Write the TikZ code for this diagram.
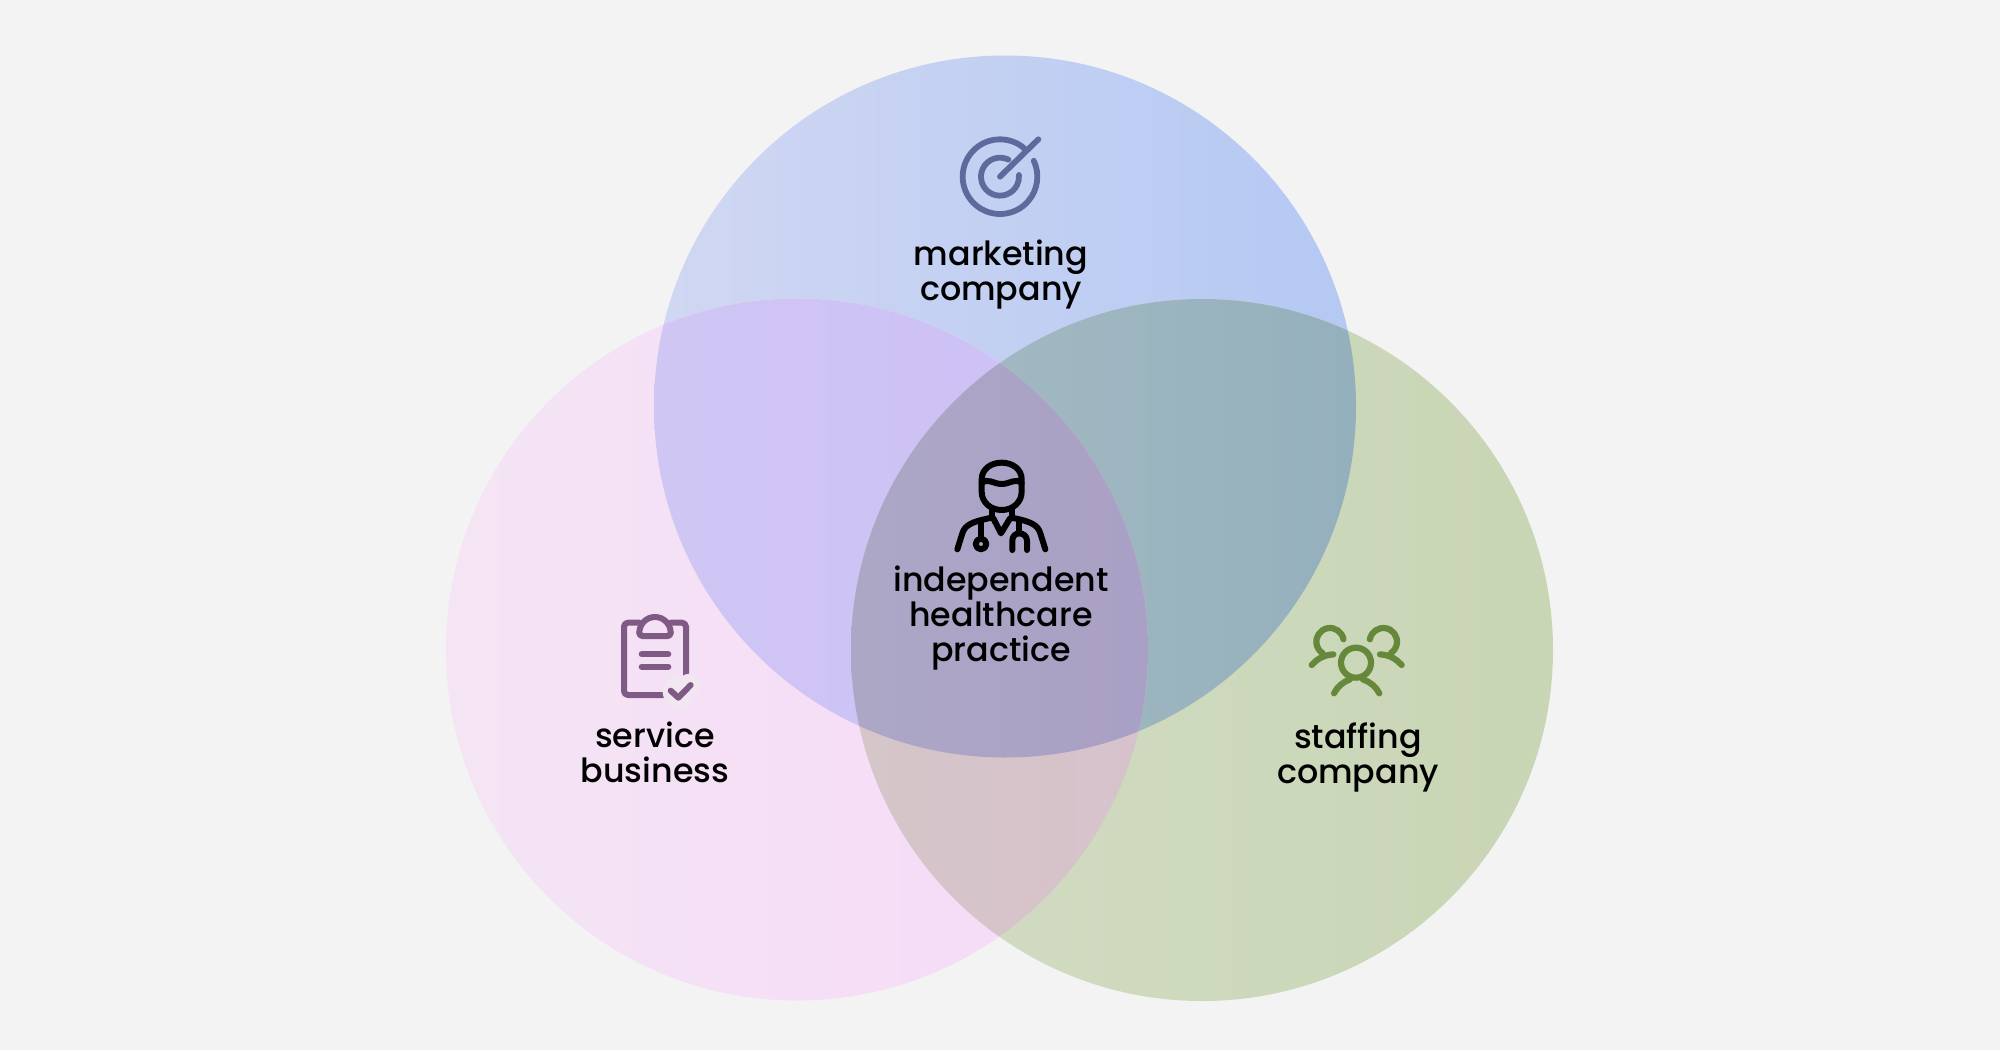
\documentclass[tikz,border=0pt]{standalone}
\usepackage{fontspec}
\setmainfont{Poppins Medium}[Ligatures=TeX]
\definecolor{bgc}{HTML}{F3F3F3}
\definecolor{icoblue}{HTML}{5D6A9B}
\definecolor{icopurple}{HTML}{7E5A84}
\definecolor{icogreen}{HTML}{65883A}
\definecolor{halo}{HTML}{F1E6F2}
\definecolor{Ta}{HTML}{D0D7F2}\definecolor{Tb}{HTML}{B2C7F3}
\definecolor{La}{HTML}{F4E5F4}\definecolor{Lb}{HTML}{F6D9F8}
\definecolor{Ra}{HTML}{D4DDC8}\definecolor{Rb}{HTML}{C6D4B0}
\definecolor{TLa}{HTML}{D1C9F3}\definecolor{TLb}{HTML}{CCBEF6}
\definecolor{TRa}{HTML}{A6BCC3}\definecolor{TRb}{HTML}{8FACBB}
\definecolor{LRa}{HTML}{D3C8C8}\definecolor{LRb}{HTML}{D8C0CC}
\definecolor{Ca}{HTML}{AFABC6}\definecolor{Cb}{HTML}{A79CC5}
\newcommand\CircT{(1005,406.5) circle[radius=351]}
\newcommand\CircL{(797,649.5) circle[radius=351]}
\newcommand\CircR{(1202,650) circle[radius=351]}
% horizontal ramp from x=#1 to x=#2, colours #3 to #4 (the ramp fills the middle half of the box)
\newcommand\ramp[4]{\shade[left color=#3,right color=#4]
  ({#1-(#2-#1)/2},-100) rectangle ({#2+(#2-#1)/2},1150);}
\tikzset{
  ico/.style={line width=#1,line cap=round,line join=round},
  lab/.style={align=center,font=\fontsize{33.3}{35}\selectfont,text=black,inner sep=0pt,anchor=center},
  zoomed/.style={x=1/3*1pt,y=-1/3*1pt},
}
\begin{document}
\begin{tikzpicture}[x=1pt,y=-1pt]
\useasboundingbox (0,0) rectangle (2000,1050);
\fill[bgc] (0,0) rectangle (2000,1050);
\begin{scope}\clip \CircT; \ramp{850}{1230}{Ta}{Tb}\end{scope}
\begin{scope}\clip \CircL; \ramp{600}{1000}{La}{Lb}\end{scope}
\begin{scope}\clip \CircR; \ramp{950}{1480}{Ra}{Rb}\end{scope}
\begin{scope}\clip \CircT; \clip \CircL; \ramp{655}{1000}{TLa}{TLb}\end{scope}
\begin{scope}\clip \CircT; \clip \CircR; \ramp{1000}{1357}{TRa}{TRb}\end{scope}
\begin{scope}\clip \CircL; \clip \CircR; \ramp{850}{1150}{LRa}{LRb}\end{scope}
\begin{scope}\clip \CircT; \clip \CircL; \clip \CircR; \ramp{852}{1148}{Ca}{Cb}\end{scope}
% target icon
\begin{scope}[shift={(920,120)},zoomed,icoblue]
\draw[ico=5.8pt] (240,170) ++(-49:112) arc[start angle=-49,end angle=-385,radius=112];
\draw[ico=5.8pt] (240,170) ++(-64:57) arc[start angle=-64,end angle=-365,radius=57];
\draw[ico=5.8pt] (240,170) -- (355,58);
\end{scope}
% doctor icon
\begin{scope}[shift={(930,450)},zoomed,black]
\draw[ico=6pt] (155,125) -- (155,88) .. controls (155,58) and (182,38) .. (215,38) .. controls (248,38) and (275,58) .. (275,88) -- (275,125) .. controls (275,157) and (248,180) .. (215,180) .. controls (182,180) and (155,157) .. (155,125) -- cycle;
\draw[ico=6pt] (155,100) .. controls (172,82) and (190,102) .. (215,102) .. controls (240,102) and (258,82) .. (275,100);
\draw[ico=6pt] (185,175) -- (185,205) (245,175) -- (245,205);
\draw[ico=6pt] (190,205) -- (213,250) -- (240,205);
\draw[ico=6pt] (82,298) -- (97,250) .. controls (105,225) and (125,215) .. (185,203);
\draw[ico=6pt] (346,298) -- (331,250) .. controls (323,225) and (305,215) .. (245,203);
\draw[ico=6pt] (153,215) -- (153,266);
\draw[ico=6pt] (153,282) circle[radius=16];
\draw[ico=6pt] (268,215) -- (268,250);
\draw[ico=6pt] (247,300) -- (247,272) .. controls (247,258) and (257,250) .. (268,250) .. controls (279,250) and (291,258) .. (291,272) -- (291,300);
\end{scope}
% clipboard icon
\begin{scope}[shift={(600,600)},zoomed,icopurple]
\draw[ico=6pt,rounded corners=4pt] (118,68) -- (72,68) -- (72,285) -- (190,285);
\draw[ico=6pt,rounded corners=4pt] (212,68) -- (258,68) -- (258,225);
\draw[ico=6pt,rounded corners=3pt] (118,98) -- (118,108) -- (212,108) -- (212,98);
\draw[ico=6pt] (118,98) arc[start angle=180,end angle=360,radius=47];
\draw[ico=6pt] (125,163) -- (205,163) (125,200) -- (205,200);
\fill[halo] (236,275) circle[radius=48] (268,255) circle[radius=34];
\draw[ico=6pt] (212,272) -- (235,293) -- (272,255);
\end{scope}
% people icon
\begin{scope}[shift={(1290,610)},zoomed,icogreen]
\draw[ico=6.2pt] (198,158) circle[radius=45];
\draw[ico=6.2pt] (132,250) .. controls (142,230) and (160,215) .. (180,208);
\draw[ico=6.2pt] (268,250) .. controls (258,230) and (240,215) .. (218,208);
\draw[ico=6.2pt] (120,95) ++(-10:41) arc[start angle=-10,end angle=-237,radius=41];
\draw[ico=6.2pt] (65,165) .. controls (80,148) and (100,135) .. (130,133);
\draw[ico=6.2pt] (280,95) ++(-170:41) arc[start angle=-170,end angle=57,radius=41];
\draw[ico=6.2pt] (335,165) .. controls (320,148) and (300,135) .. (270,133);
\end{scope}
\node[lab] (t1) at (1001,274.5) {marketing\\company};
\node[lab] (t2) at (1001,618) {independent\\healthcare\\practice};
\node[lab] (t3) at (655,752) {service\\business};
\node[lab] (t4) at (1358,757) {staffing\\company};
\end{tikzpicture}
\end{document}
